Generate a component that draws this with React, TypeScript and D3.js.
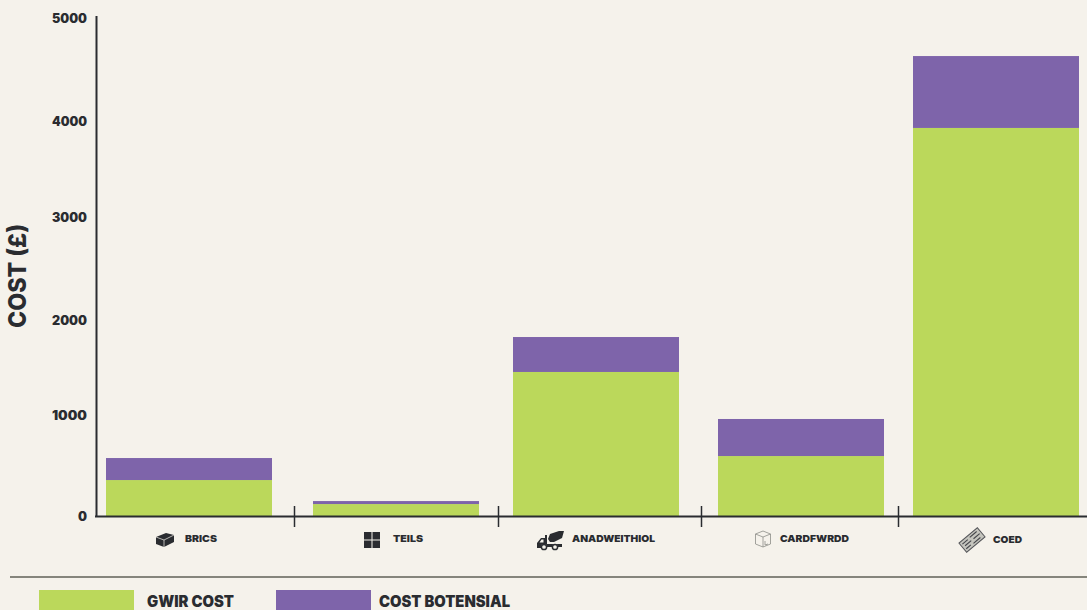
import * as d3 from 'd3'
import React, { useEffect, useRef } from 'react'

const categories = ['BRICS', 'TEILS', 'ANADWEITHIOL', 'CARDFWRDD', 'COED']
const gwirCost = [361, 120, 1446, 602, 3896]
const costBotensial = [221, 30, 351, 372, 722]
const yTicks = [0, 1000, 2000, 3000, 4000, 5000]
const seriesNames = ['GWIR COST', 'COST BOTENSIAL']

const WIDTH = 1087
const HEIGHT = 610
const BG = '#f5f2eb'
const GREEN = '#bbd85b'
const PURPLE = '#7e64aa'
const INK = '#2a2c30'
const FONT = 'Inter, "Liberation Sans", sans-serif'

// the bars are not evenly spaced in the original
const barLefts = [106, 313, 513, 718, 913]
const separators = [294, 498, 701, 898]
const iconX = [165, 372, 550, 763, 972]
const labelX = [185, 393, 572, 780, 993]
const labelWidths = [32, 30, 83, 69, 29]
const tickLabelNudge: Record<number, number> = { 0: 0, 1000: -1, 2000: 4, 3000: 0, 4000: 4, 5000: 0 }

const iconPaths: string[] = [
  // brick
  'M-9,-3 L1,-7 L9,-5 L9,2 L-1,7 L-9,4 Z',
  // tiles
  'M-8,-8 H-0.5 V-0.5 H-8 Z M0.5,-8 H8 V-0.5 H0.5 Z M-8,0.5 H-0.5 V8 H-8 Z M0.5,0.5 H8 V8 H0.5 Z',
  // mixer truck: cab outline and chassis
  'M-13,7 V2 L-9,-3 H-5 V-6 H-3 V3 H12 V6 H8 A3,3 0 0 0 2,6 H-3 A3,3 0 0 0 -9,6 V7 Z M-10.5,1.5 H-6.5 V-1.5 H-8.5 Z',
  // mixer truck: drum
  'M-2,-2 L0,-7 L9,-10 H14 L12,-3 L4,1 H0 Z',
]

export default function App() {
  const svgRef = useRef<SVGSVGElement>(null)

  useEffect(() => {
    if (!svgRef.current) return
    const svg = d3.select(svgRef.current)
    svg.selectAll('*').remove()

    const y = d3.scaleLinear().domain([0, 5000]).range([516, 18])
    const barX = d3.scaleOrdinal<string, number>().domain(categories).range(barLefts)
    const barWidth = 166

    svg.append('rect').attr('width', WIDTH).attr('height', HEIGHT).attr('fill', BG)

    // stacked bars
    const stacked = d3.stack<number>()
      .keys(['gwir', 'botensial'])
      .value((i, key) => (key === 'gwir' ? gwirCost[i] : costBotensial[i]))(categories.map((_, i) => i))

    stacked.forEach((layer, li) => {
      svg.append('g')
        .selectAll('rect')
        .data(layer)
        .join('rect')
        .attr('x', (_, i) => barX(categories[i]))
        .attr('y', d => y(d[1]))
        .attr('width', barWidth)
        .attr('height', d => y(d[0]) - y(d[1]))
        .attr('fill', li === 0 ? GREEN : PURPLE)
    })

    // y axis
    const yAxis = svg.append('g')
      .attr('transform', 'translate(96,0)')
      .call(d3.axisLeft(y).tickValues(yTicks).tickSize(0).tickPadding(9).tickFormat(d3.format('d') as any))
    yAxis.select('.domain').remove()
    yAxis.selectAll<SVGTextElement, number>('text')
      .attr('font-family', FONT)
      .attr('font-size', 13)
      .attr('font-weight', 900)
      .attr('fill', INK)
      .attr('dy', d => `${0.32 + tickLabelNudge[d] / 13}em`)
      .attr('textLength', d => (d === 0 ? 9 : 35))
      .attr('lengthAdjust', 'spacingAndGlyphs')

    svg.append('line').attr('x1', 96.5).attr('x2', 96.5).attr('y1', 16).attr('y2', 517)
      .attr('stroke', INK).attr('stroke-width', 2)
    svg.append('line').attr('x1', 95).attr('x2', WIDTH).attr('y1', 516.5).attr('y2', 516.5)
      .attr('stroke', INK).attr('stroke-width', 2)

    svg.append('g').selectAll('line')
      .data(separators)
      .join('line')
      .attr('x1', d => d + 0.5).attr('x2', d => d + 0.5)
      .attr('y1', 506).attr('y2', 527)
      .attr('stroke', INK).attr('stroke-width', 1.5)

    // category labels
    svg.append('g').selectAll('text')
      .data(categories)
      .join('text')
      .attr('x', (_, i) => labelX[i])
      .attr('y', (_, i) => (i === 4 ? 543 : 542))
      .attr('textLength', (_, i) => labelWidths[i])
      .attr('lengthAdjust', 'spacingAndGlyphs')
      .attr('font-family', FONT)
      .attr('font-size', 9.6)
      .attr('font-weight', 900)
      .attr('fill', INK)
      .text(d => d)

    // category icons
    const icons = svg.append('g')
    const iconSlot = [0, 1, 2, 2]
    iconPaths.forEach((d, i) => {
      icons.append('path')
        .attr('d', d)
        .attr('fill-rule', 'evenodd')
        .attr('transform', `translate(${iconX[iconSlot[i]]},${iconSlot[i] === 2 ? 541 : 540})`)
        .attr('fill', INK)
    })
    // brick face line
    icons.append('path')
      .attr('d', 'M-9,-3 L-1,0 L9,-5 M-1,0 V7')
      .attr('transform', `translate(${iconX[0]},540)`)
      .attr('fill', 'none').attr('stroke', BG).attr('stroke-width', 0.7)
    // mixer truck wheels
    const wheels = icons.append('g').attr('transform', `translate(${iconX[2]},541)`)
    wheels.selectAll('circle').data([-6, 5]).join('circle')
      .attr('cx', d => d).attr('cy', 6).attr('r', 2.6)
      .attr('fill', BG).attr('stroke', INK).attr('stroke-width', 1.5)
    // cardboard box
    icons.append('path')
      .attr('d', 'M-7.5,-5 L0,-8 L7.5,-5 V5 L0,8 L-7.5,5 Z M-7.5,-5 L0,-2 L7.5,-5 M0,-2 V8 M2,2 V6 L5,5')
      .attr('transform', `translate(${iconX[3]},539)`)
      .attr('fill', BG).attr('stroke', '#8d8d88').attr('stroke-width', 0.8)
    // timber plank
    const wood = icons.append('g').attr('transform', `translate(${iconX[4]},540) rotate(-40)`)
    wood.append('rect').attr('x', -12).attr('y', -6).attr('width', 24).attr('height', 12)
      .attr('fill', '#c4c4bd').attr('stroke', '#55565a').attr('stroke-width', 1)
    wood.append('path').attr('d', 'M-10,-3 H-3 M0,-3.5 H9 M-9,0 H-1 M2,0 H10 M-10,3 H-4 M-1,3.5 H8')
      .attr('fill', 'none').attr('stroke', '#44454a').attr('stroke-width', 1.1)

    // y title
    svg.append('text')
      .attr('transform', 'translate(26,276) rotate(-90)')
      .attr('text-anchor', 'middle')
      .attr('textLength', 104)
      .attr('lengthAdjust', 'spacingAndGlyphs')
      .attr('font-family', FONT)
      .attr('font-size', 24.5)
      .attr('font-weight', 800)
      .attr('fill', INK)
      .text('COST (£)')

    // divider and legend
    svg.append('line').attr('x1', 10).attr('x2', WIDTH).attr('y1', 577).attr('y2', 577)
      .attr('stroke', '#85857c').attr('stroke-width', 2)

    const legend = svg.append('g')
    const swatchX = [39, 276]
    const textX = [147, 379]
    const textW = [87, 131]
    seriesNames.forEach((name, i) => {
      legend.append('rect').attr('x', swatchX[i]).attr('y', 590).attr('width', 95).attr('height', 20)
        .attr('fill', i === 0 ? GREEN : PURPLE)
      legend.append('text').attr('x', textX[i]).attr('y', 607)
        .attr('textLength', textW[i]).attr('lengthAdjust', 'spacingAndGlyphs')
        .attr('font-family', FONT).attr('font-size', 15.5).attr('font-weight', 900)
        .attr('fill', INK).text(name)
    })
  }, [])

  return (
    <svg
      ref={svgRef}
      width={WIDTH}
      height={HEIGHT}
      style={{ position: 'absolute', left: 0, top: 0 }}
      role="img"
      aria-label="Cost by material"
    />
  )
}
